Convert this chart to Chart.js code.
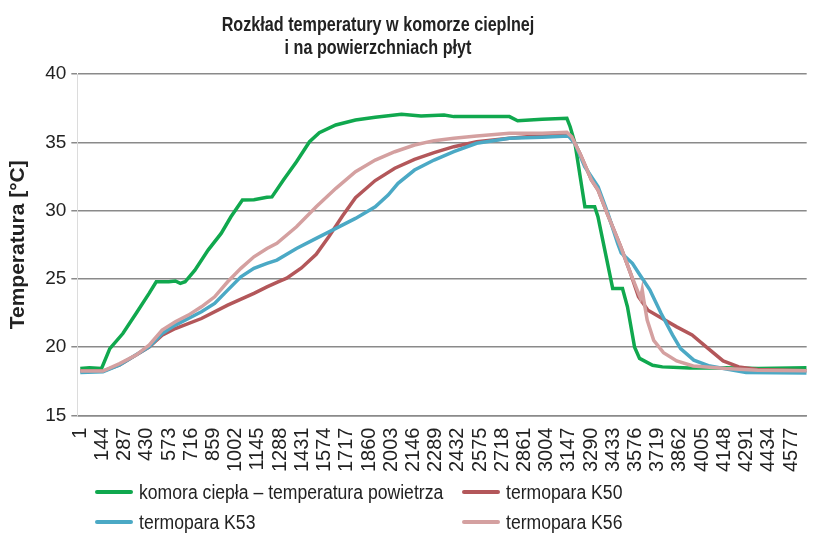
<!DOCTYPE html>
<html>
<head>
<meta charset="utf-8">
<script src="https://cdn.jsdelivr.net/npm/chart.js@4.4.0/dist/chart.umd.min.js"></script>
<style>
html,body{margin:0;padding:0;background:#fff;}
#wrap{position:relative;width:819px;height:533px;overflow:hidden;font-family:"Liberation Sans",Arial,sans-serif;color:#222;}
#chart{position:absolute;left:0;top:0;}
#title{position:absolute;left:78px;width:600px;top:12px;text-align:center;font-weight:bold;font-size:21px;line-height:23px;transform:scaleX(0.77);transform-origin:300px 0;}
.leg{position:absolute;height:24px;display:flex;align-items:center;white-space:nowrap;}
.leg i{display:inline-block;width:38px;height:4px;border-radius:2px;margin-right:6px;flex:none;}
.leg span{display:inline-block;font-size:20px;transform:scaleX(0.88);transform-origin:0 50%;}
</style>
</head>
<body>
<div id="wrap">
<canvas id="chart" width="819" height="533"></canvas>
<div id="title">Rozkład temperatury w komorze cieplnej<br>i na powierzchniach płyt</div>
<div id="legend"></div>
</div>
<script>
// ---- data ----
const seriesNames = ['komora ciepła – temperatura powietrza', 'termopara K50', 'termopara K53', 'termopara K56'];
const seriesColors = ['#10A84E', '#B3575A', '#4BA9C5', '#D4A0A0'];
const xTickLabels = [1,144,287,430,573,716,859,1002,1145,1288,1431,1574,1717,1860,2003,2146,2289,2432,2575,2718,2861,3004,3147,3290,3433,3576,3719,3862,4005,4148,4291,4434,4577];
const yTickLabels = [15,20,25,30,35,40];

const komoraTime = [1,60,138,191,275,360,444,490,571,613,645,676,739,824,908,971,1045,1119,1203,1235,1309,1393,1477,1540,1646,1773,1900,2069,2195,2343,2406,2553,2764,2817,2975,3134,3155,3186,3250,3313,3334,3429,3492,3524,3570,3602,3686,3749,3924,4146,4367,4678];
const komoraTemp = [18.45,18.5,18.45,19.9,21.0,22.47,23.94,24.79,24.8,24.85,24.67,24.79,25.64,27.11,28.33,29.55,30.77,30.8,30.97,31.0,32.24,33.58,35.04,35.7,36.27,36.63,36.83,37.05,36.93,37.0,36.88,36.88,36.88,36.58,36.68,36.76,36.14,34.93,30.28,30.28,29.55,24.3,24.3,22.96,20.0,19.18,18.68,18.56,18.47,18.5,18.45,18.5];

const k50Time = [1,147,254,444,528,613,781,950,1119,1203,1267,1330,1425,1520,1602,1689,1773,1900,2026,2153,2279,2406,2553,2764,2975,3134,3165,3218,3292,3335,3398,3481,3544,3595,3656,3734,3841,3940,4031,4140,4241,4361,4678];
const k50Temp = [18.25,18.25,18.7,20.0,20.88,21.37,22.1,23.08,23.94,24.42,24.75,25.05,25.8,26.8,28.1,29.6,30.95,32.2,33.1,33.75,34.24,34.68,35.04,35.29,35.49,35.66,35.41,34.19,32.24,31.5,29.67,27.35,25.4,23.69,22.71,22.2,21.49,20.9,20.03,19.0,18.56,18.37,18.27];

const k53Time = [1,147,254,444,528,613,781,866,950,1035,1119,1203,1267,1393,1520,1647,1773,1900,1983,2047,2153,2279,2406,2553,2764,2975,3144,3186,3249,3335,3398,3461,3484,3556,3598,3668,3741,3814,3866,3951,4054,4288,4678];
const k53Temp = [18.15,18.2,18.7,20.03,21.0,21.62,22.6,23.2,24.18,25.15,25.77,26.14,26.38,27.23,27.97,28.7,29.43,30.28,31.14,32.0,32.97,33.7,34.31,34.93,35.29,35.37,35.46,34.93,33.21,31.75,29.8,27.6,26.9,26.14,25.4,24.2,22.47,20.9,19.9,19.05,18.62,18.15,18.12];

const k56Time = [1,147,254,360,444,528,613,697,781,866,950,1035,1119,1203,1267,1393,1520,1647,1773,1900,2026,2153,2279,2406,2553,2764,2975,3134,3165,3218,3292,3335,3398,3481,3544,3587,3608,3619,3629,3651,3693,3756,3841,3947,4158,4362,4678];
const k56Temp = [18.25,18.25,18.8,19.42,20.15,21.25,21.86,22.35,22.96,23.69,24.79,25.77,26.62,27.23,27.6,28.82,30.28,31.63,32.85,33.7,34.31,34.8,35.12,35.29,35.46,35.66,35.66,35.73,35.41,34.19,32.24,31.5,29.67,27.35,25.4,24.18,23.6,24.2,23.45,21.98,20.5,19.6,19.0,18.63,18.44,18.32,18.27];

// ---- build chart ----
const FONT = '"Liberation Sans",Arial,sans-serif';
function pts(t, v){ return t.map((x,i)=>({x:x, y:v[i]})); }
const seriesData = [pts(komoraTime,komoraTemp), pts(k50Time,k50Temp), pts(k53Time,k53Temp), pts(k56Time,k56Temp)];
const datasets = seriesNames.map((n,i)=>({
  label:n, data:seriesData[i], borderColor:seriesColors[i], backgroundColor:seriesColors[i],
  borderWidth:3.5, pointRadius:0, tension:0, fill:false, order:4-i
}));

const chart = new Chart(document.getElementById('chart'), {
  type:'line',
  data:{datasets:datasets},
  options:{
    responsive:false, animation:false,
    layout:{padding:{top:74,right:0,bottom:57,left:4}},
    plugins:{legend:{display:false}, title:{display:false}, tooltip:{enabled:false}},
    scales:{
      x:{type:'linear', min:-18, max:4678,
        afterBuildTicks:(s)=>{ s.ticks = xTickLabels.map(v=>({value:v})); },
        ticks:{autoSkip:false, maxRotation:90, minRotation:90, color:'#222', font:{family:FONT,size:20}, padding:4,
          callback:(v)=>String(v)},
        grid:{display:false},
        border:{display:true, color:'#8a8a8a', width:1.5}
      },
      y:{min:15, max:40,
        afterBuildTicks:(s)=>{ s.ticks = yTickLabels.map(v=>({value:v})); },
        ticks:{color:'#222', font:{family:FONT,size:19}, padding:5},
        grid:{color:'#8a8a8a', lineWidth:1.5, tickLength:6, drawTicks:true},
        border:{display:true, color:'#dcdcdc', width:1},
        title:{display:true, text:'Temperatura [°C]', color:'#222', font:{family:FONT,size:21,weight:'bold'}, padding:{top:2,bottom:9}}
      }
    }
  }
});

// HTML legend built from the chart's datasets (two columns, row-major)
const legPos = [[95,480],[462,480],[95,510],[462,510]];
const legend = document.getElementById('legend');
chart.data.datasets.forEach((d,i)=>{
  const el = document.createElement('div');
  el.className='leg';
  el.style.left = legPos[i][0]+'px';
  el.style.top = legPos[i][1]+'px';
  el.innerHTML = '<i style="background:'+d.borderColor+'"></i><span></span>';
  el.querySelector('span').textContent = d.label;
  legend.appendChild(el);
});
</script>
</body>
</html>
